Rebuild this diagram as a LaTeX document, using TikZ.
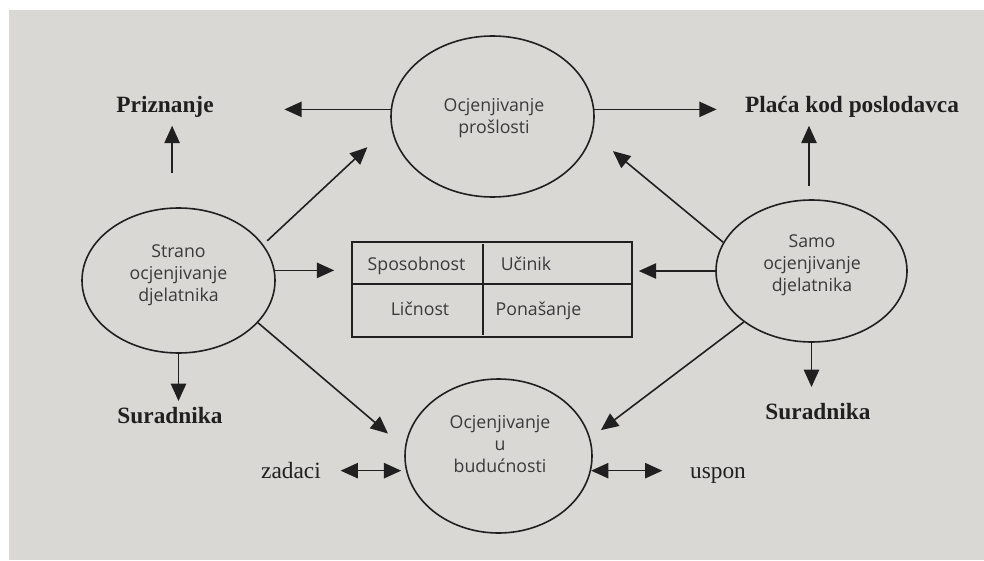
\documentclass[tikz,border=0pt]{standalone}
\usepackage{fontspec}
\setmainfont{Liberation Serif}
\newfontfamily\ellfont{Open Sans}
\usetikzlibrary{arrows.meta,shapes.geometric}

\definecolor{page}{RGB}{218,216,213}
\definecolor{ink}{RGB}{32,32,32}
\definecolor{grayink}{RGB}{58,58,58}

\tikzset{every picture/.style={line width=1.2pt}}
\tikzset{
ell/.style={draw=ink, ellipse, inner sep=0pt},
etext/.style={font=\ellfont\fontsize{13.3}{16.5}\selectfont, text=grayink, align=center, inner sep=0.75pt},
lbl/.style={font=\fontsize{17.5}{21}\selectfont\bfseries, text=ink, inner sep=0.75pt, anchor=base},
lblr/.style={font=\fontsize{17.5}{21}\selectfont, text=ink, inner sep=0.75pt, anchor=base},
cell/.style={font=\ellfont\fontsize{13.3}{16}\selectfont, text=grayink, inner sep=0.75pt, anchor=base},
tblbox/.style={draw=ink, rectangle, inner sep=0pt},
arr/.style={draw=ink, -{Triangle[length=13pt,width=11.5pt]}},
dblarr/.style={draw=ink, {Triangle[length=13pt,width=11.5pt]}-{Triangle[length=13pt,width=11.5pt]}}
}

\begin{document}
\begin{tikzpicture}[x=0.75pt,y=0.75pt,yscale=-1,xscale=1]
%uncomment if require: \path (0,560); %set diagram left start at 0, and has height of 560

%Page
\fill [white] (0,0) rectangle (984,560);
\fill [page] (9,10) rectangle (984,560);

%Shape: Ellipse [prosl]
\draw (492.5,116.5) node [ell, minimum width=152.25pt, minimum height=120.75pt] (prosl) {};
%Shape: Ellipse [strano]
\draw (178.5,280.5) node [ell, minimum width=144.75pt, minimum height=108.75pt] (strano) {};
%Shape: Ellipse [samo]
\draw (811.5,271) node [ell, minimum width=143.25pt, minimum height=106.5pt] (samo) {};
%Shape: Ellipse [buduc]
\draw (498.5,456) node [ell, minimum width=140.25pt, minimum height=115.5pt] (buduc) {};
%Shape: Rectangle [tbl]
\draw (492,289.5) node [tblbox, minimum width=210pt, minimum height=71.25pt] (tbl) {};
%Straight Lines
\draw [draw=ink] (352,284) -- (632,284) ;
\draw [draw=ink] (483,244) -- (483,335) ;

% Text Node
\draw (494,118) node [etext] (proslT) {Ocjenjivanje\\prošlosti};
% Text Node
\draw (178.5,275.5) node [etext] (stranoT) {Strano\\ocjenjivanje\\djelatnika};
% Text Node
\draw (812,265) node [etext] (samoT) {Samo\\ocjenjivanje\\djelatnika};
% Text Node
\draw (500,444) node [etext] (buducT) {Ocjenjivanje\\u\\budućnosti};
% Text Node
\draw (416.5,270) node [cell] (sposob) {Sposobnost};
\draw (526,270) node [cell] (ucin) {Učinik};
\draw (420,315) node [cell] (licn) {Ličnost};
\draw (538.5,315) node [cell] (ponas) {Ponašanje};
% Text Node
\draw (165,112) node [lbl] (priz) {Priznanje};
% Text Node
\draw (852,113) node [lbl] (plac) {Plaća kod poslodavca};
% Text Node
\draw (170,423) node [lbl] (surL) {Suradnika};
% Text Node
\draw (818,419) node [lbl] (surR) {Suradnika};
% Text Node
\draw (291,478) node [lblr] (zad) {zadaci};
% Text Node
\draw (718,478) node [lblr] (usp) {uspon};

%Arrows from prosl
\draw [arr, shorten >=51.75pt] (prosl.176) -- (prosl.176 -| priz.east) ;
\draw [arr, shorten >=20pt] (prosl.4) -- (prosl.4 -| plac.west) ;
%Arrows from strano
\draw [arr, shorten <=26pt, shorten >=5.25pt] (strano.95) -- (strano.95 |- priz.south) ;
\draw [arr, shorten <=4pt, shorten >=24pt] (strano.23) -- (prosl.185) ;
\draw [arr, shorten >=12.75pt] (strano.6) -- (strano.6 -| tbl.west) ;
\draw [arr, shorten >=16.5pt] (strano.332) -- (buduc.175) ;
\draw [arr, shorten >=3pt] (strano.south) -- (strano.south |- surL.north) ;
%Arrows from samo
\draw [arr, shorten <=9.75pt, shorten >=4.5pt] (samo.92) -- (samo.92 |- plac.south) ;
\draw [arr, shorten >=20pt] (samo.162) -- (prosl.350) ;
\draw [arr, shorten >=4.5pt] (samo.west) -- (samo.west -| tbl.east) ;
\draw [arr, shorten >=10pt] (samo.217) -- (buduc.11) ;
\draw [arr, shorten >=10.5pt] (samo.south) -- (samo.south |- surR.north) ;
%Arrows at buduc
\draw [dblarr, shorten <=13.5pt, shorten >=3.5pt] (buduc.189 -| zad.east) -- (buduc.189) ;
\draw [dblarr, shorten >=19.5pt] (buduc.351) -- (buduc.351 -| usp.west) ;

\end{tikzpicture}
\end{document}
